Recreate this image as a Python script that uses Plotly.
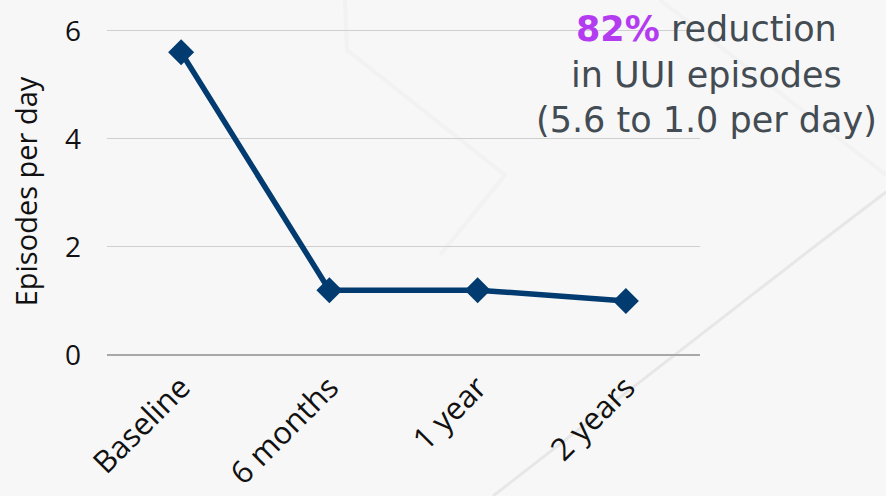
import plotly.graph_objects as go

categories = ["Baseline", "6 months", "1 year", "2 years"]
episodes = [5.6, 1.2, 1.2, 1.0]
y_ticks = [0, 2, 4, 6]

annotation_text = (
    "<b><span style='color:#b43cf0'>82%</span></b> reduction<br>"
    "in UUI episodes<br>"
    "(5.6 to 1.0 per day)"
)

# layout geometry (pixels)
W, H = 886, 496
Y_MAX = 6.05
L, R, B = 107, 186, 141
T = round(H - B - 54 * Y_MAX)
PW, PH = W - L - R, H - T - B


def px_to_paper(px, py):
    return (px - L) / PW, (H - B - py) / PH


fig = go.Figure()
fig.add_trace(go.Scatter(
    x=categories, y=episodes, mode="lines+markers",
    line=dict(color="#023b70", width=5.5),
    marker=dict(symbol="diamond", size=20, color="#023b70"),
    cliponaxis=False, showlegend=False, hoverinfo="skip",
))

# faint background decoration
decor = [
    ([(493, 496), (810, 250), (886, 192)], "#e7e7e7", 3),
    ([(345, 0), (347, 50), (505, 175), (440, 255)], "#f2f2f2", 4),
    ([(660, 0), (886, 175)], "#f2f2f2", 4),
]
for pts, col, w in decor:
    path = ""
    for i, (px, py) in enumerate(pts):
        xp, yp = px_to_paper(px, py)
        path += ("M" if i == 0 else " L") + f"{xp:.4f},{yp:.4f}"
    fig.add_shape(type="path", xref="paper", yref="paper", path=path,
                  line=dict(color=col, width=w), layer="below")

xp, yp = px_to_paper(706, 74)
fig.add_annotation(
    xref="paper", yref="paper", x=xp, y=yp, xanchor="center", yanchor="middle",
    text=annotation_text, showarrow=False, align="center",
    font=dict(family="DejaVu Sans", size=35, color="#434b53"),
)

fig.update_layout(
    width=W, height=H,
    margin=dict(l=L, r=R, t=T, b=B, pad=0),
    paper_bgcolor="#f7f7f7", plot_bgcolor="rgba(0,0,0,0)",
    font=dict(family="Open Sans", color="#111111"),
    xaxis=dict(showgrid=False, zeroline=False, showline=False, tickangle=-45, automargin=False,
               tickfont=dict(size=31), ticks="", range=[-0.5, 3.5], ticklabelstandoff=7),
    yaxis=dict(range=[0, Y_MAX], tickvals=y_ticks, showgrid=True, gridcolor="#cfcfcf", gridwidth=1,
               zeroline=True, zerolinecolor="#a8a8a8", zerolinewidth=2, automargin=False,
               tickfont=dict(size=28), ticklabelstandoff=25,
               title=dict(text="Episodes per day", font=dict(size=29), standoff=18)),
)

fig.write_html("out.html", config={"displayModeBar": False},
               post_script="document.body.style.margin='0';document.body.style.overflow='hidden';")
